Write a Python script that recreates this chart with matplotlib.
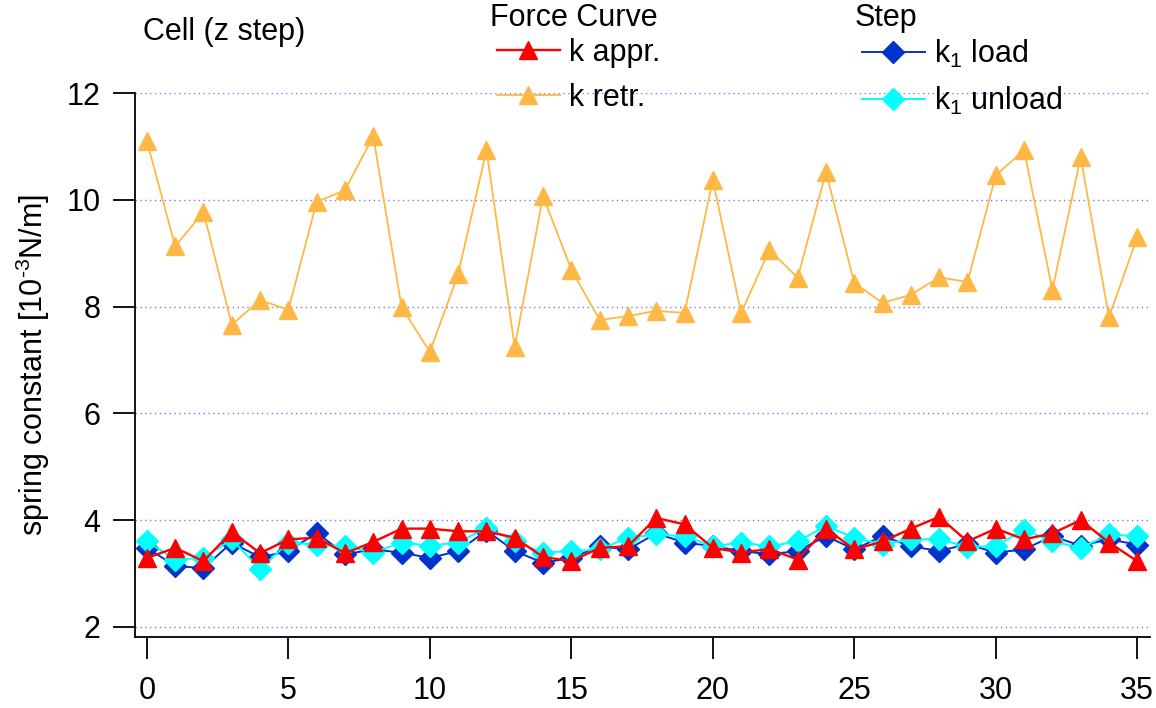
import matplotlib
matplotlib.use('Agg')
import matplotlib.pyplot as plt

plt.rcParams['font.family'] = ['Liberation Sans', 'DejaVu Sans']
plt.rcParams['mathtext.fontset'] = 'custom'
plt.rcParams['mathtext.rm'] = 'Liberation Sans'
plt.rcParams['mathtext.it'] = 'Liberation Sans'
plt.rcParams['mathtext.default'] = 'regular'

# cell index along the z step scan
cells = list(range(36))

k_appr = [3.29, 3.48, 3.23, 3.78, 3.38, 3.64, 3.67, 3.38, 3.59, 3.84,
          3.84, 3.79, 3.79, 3.67, 3.31, 3.23, 3.48, 3.51, 4.04, 3.92,
          3.48, 3.39, 3.46, 3.26, 3.84, 3.45, 3.60, 3.84, 4.06, 3.60,
          3.84, 3.64, 3.75, 4.00, 3.58, 3.23]
k_retr = [11.10, 9.13, 9.77, 7.66, 8.12, 7.94, 9.96, 10.18, 11.19, 7.99,
          7.15, 8.61, 10.93, 7.24, 10.07, 8.69, 7.75, 7.82, 7.92, 7.88,
          10.37, 7.88, 9.06, 8.54, 10.52, 8.44, 8.07, 8.22, 8.55, 8.46,
          10.46, 10.93, 8.31, 10.80, 7.80, 9.30]
k1_load = [3.48, 3.14, 3.10, 3.58, 3.30, 3.42, 3.76, 3.36, 3.45, 3.39,
           3.29, 3.42, 3.80, 3.42, 3.20, 3.29, 3.51, 3.45, 3.75, 3.58,
           3.51, 3.42, 3.36, 3.42, 3.70, 3.45, 3.70, 3.51, 3.42, 3.55,
           3.39, 3.45, 3.70, 3.52, 3.64, 3.54]
k1_unload = [3.60, 3.26, 3.29, 3.64, 3.08, 3.58, 3.54, 3.51, 3.39, 3.58,
             3.52, 3.58, 3.86, 3.60, 3.39, 3.42, 3.45, 3.67, 3.73, 3.70,
             3.51, 3.58, 3.51, 3.60, 3.89, 3.67, 3.54, 3.64, 3.64, 3.50,
             3.51, 3.82, 3.60, 3.48, 3.73, 3.70]

x_ticks = [0, 5, 10, 15, 20, 25, 30, 35]
y_ticks = [2, 4, 6, 8, 10, 12]

RED = '#ff0000'
ORANGE = '#ffb845'
BLUE = '#0033cc'
CYAN = '#00ffff'
FS = 22

fig = plt.figure(figsize=(11.56, 7.08), dpi=100)
ax = fig.add_axes([0.1168, 0.1003, 0.878, 0.7683])

l_retr, = ax.plot(cells, k_retr, color=ORANGE, lw=1.3, marker='^', ms=13,
                  mec=ORANGE, zorder=3)
l_load, = ax.plot(cells, k1_load, color=BLUE, lw=1.4, marker='D', ms=11.5,
                  mec=BLUE, zorder=4)
l_unload, = ax.plot(cells, k1_unload, color=CYAN, lw=1.4, marker='D',
                    ms=11.5, mec=CYAN, zorder=5)
l_appr, = ax.plot(cells, k_appr, color=RED, lw=1.7, marker='^', ms=13,
                  mec=RED, zorder=6)

ax.set_xlim(-0.42, 35.45)
ax.set_ylim(1.81, 12)
ax.set_xticks(x_ticks)
ax.set_yticks(y_ticks)
ax.yaxis.grid(True, linestyle=(0, (1, 2.5)), color='#7878ff', lw=1.0)
ax.set_axisbelow(True)

for side in ('top', 'right'):
    ax.spines[side].set_visible(False)
for side in ('left', 'bottom'):
    ax.spines[side].set_linewidth(1.3)
ax.tick_params(axis='both', direction='out', length=16, width=1.3,
               labelsize=FS)
ax.tick_params(axis='x', pad=12)
ax.tick_params(axis='y', pad=9)

ax.set_ylabel('spring constant [$10^{\\text{-3}}$N/m]', fontsize=FS,
              labelpad=10)

fig.text(143 / 1156, 1 - 32 / 708, 'Cell (z step)', fontsize=FS,
         va='center', ha='left')

# legend headers
fig.text(490 / 1156, 1 - 18 / 708, 'Force Curve', fontsize=FS,
         va='center', ha='left')
fig.text(855 / 1156, 1 - 18 / 708, 'Step', fontsize=FS,
         va='center', ha='left')

leg_kw = dict(frameon=False, fontsize=FS, handlelength=2.05,
              handletextpad=0.3, labelspacing=0.48, borderpad=0,
              borderaxespad=0, loc='upper left')
fig.legend([l_appr, l_retr], ['k appr.', 'k retr.'],
           bbox_to_anchor=(497 / 1156, 1 - 38 / 708), **leg_kw)
fig.legend([l_load, l_unload], ['$k_1$ load', '$k_1$ unload'],
           bbox_to_anchor=(862 / 1156, 1 - 38 / 708), **leg_kw)

fig.savefig('out.png', dpi=100)
